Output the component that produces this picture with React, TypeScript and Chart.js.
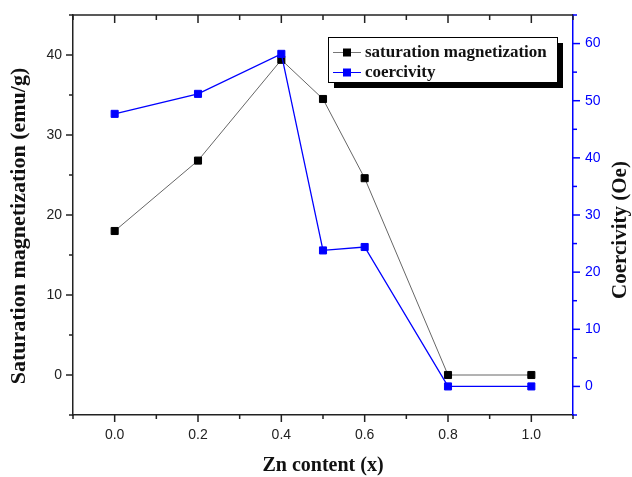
import React, { useEffect, useRef } from "react";
import { Chart, registerables } from "chart.js";

Chart.register(...registerables);

const znContent = [0.0, 0.2, 0.4, 0.5, 0.6, 0.8, 1.0];
const saturationMagnetization = [18.0, 26.8, 39.4, 34.5, 24.6, 0.0, 0.0];
const coercivity = [47.7, 51.2, 58.2, 23.8, 24.4, 0.0, 0.0];

const seriesLabels = ["saturation magnetization", "coercivity"];
const xTitle = "Zn content (x)";
const yLeftTitle = "Saturation magnetization (emu/g)";
const yRightTitle = "Coercivity (Oe)";

const X_MIN = -0.1, X_MAX = 1.1, X_STEP = 0.1, X_LABEL_STEP = 0.2;
const YL_MIN = -5, YL_MAX = 45, YL_STEP = 5, YL_LABEL_STEP = 10;
const YR_MIN = -5, YR_MAX = 65, YR_STEP = 5, YR_LABEL_STEP = 10;

const BLUE = "#0000ff";
const AXIS = "#222";

const isMultiple = (v: number, step: number) => {
  const r = v / step;
  return Math.abs(r - Math.round(r)) < 1e-6;
};

const framePlugin = {
  id: "frame",
  afterDraw(chart: any) {
    const { ctx, chartArea } = chart;
    const { left, right, top, bottom } = chartArea;
    const x = chart.scales.x;
    const yl = chart.scales.yL;
    const yr = chart.scales.yR;
    ctx.save();
    ctx.lineWidth = 1.5;
    ctx.strokeStyle = AXIS;
    ctx.beginPath();
    ctx.moveTo(left, top);
    ctx.lineTo(right, top);
    ctx.stroke();
    x.ticks.forEach((t: any) => {
      const px = x.getPixelForValue(t.value);
      const major = isMultiple(t.value, X_LABEL_STEP);
      const len = major ? 7 : 4;
      ctx.beginPath();
      ctx.moveTo(px, bottom);
      ctx.lineTo(px, bottom + len);
      ctx.moveTo(px, top);
      ctx.lineTo(px, top + len + 1);
      ctx.stroke();
    });
    yl.ticks.forEach((t: any) => {
      const py = yl.getPixelForValue(t.value);
      const major = isMultiple(t.value, YL_LABEL_STEP);
      const len = major ? 7 : 4;
      ctx.beginPath();
      ctx.moveTo(left, py);
      ctx.lineTo(left - len, py);
      ctx.stroke();
    });
    ctx.strokeStyle = BLUE;
    yr.ticks.forEach((t: any) => {
      const py = yr.getPixelForValue(t.value);
      const major = isMultiple(t.value, YR_LABEL_STEP);
      const len = major ? 7 : 4;
      ctx.beginPath();
      ctx.moveTo(right, py);
      ctx.lineTo(right + len, py);
      ctx.stroke();
    });

    ctx.fillStyle = "#111";
    ctx.textAlign = "center";
    ctx.textBaseline = "middle";
    ctx.font = "bold 22px 'Liberation Serif'";
    ctx.save();
    ctx.translate(19, 226);
    ctx.rotate(-Math.PI / 2);
    ctx.fillText(yLeftTitle, 0, 0);
    ctx.restore();
    ctx.font = "bold 21px 'Liberation Serif'";
    ctx.save();
    ctx.translate(621, 230);
    ctx.rotate(-Math.PI / 2);
    ctx.fillText(yRightTitle, 0, 0);
    ctx.restore();
    ctx.font = "bold 20px 'Liberation Serif'";
    ctx.fillText(xTitle, 323, 466);

    const bx = 328, by = 37, bw = 229, bh = 45;
    ctx.fillStyle = "#000";
    ctx.fillRect(bx + 6, by + 6, bw, bh);
    ctx.fillStyle = "#fff";
    ctx.fillRect(bx, by, bw, bh);
    ctx.lineWidth = 1;
    ctx.strokeStyle = "#000";
    ctx.strokeRect(bx + 0.5, by + 0.5, bw, bh);
    const rows = [
      { label: seriesLabels[0], line: "#777", fill: "#000", y: 52 },
      { label: seriesLabels[1], line: BLUE, fill: BLUE, y: 72 },
    ];
    rows.forEach((r) => {
      ctx.strokeStyle = r.line;
      ctx.lineWidth = 1;
      ctx.beginPath();
      ctx.moveTo(333, r.y + 0.5);
      ctx.lineTo(361, r.y + 0.5);
      ctx.stroke();
      ctx.fillStyle = r.fill;
      ctx.fillRect(343, r.y - 3.5, 8, 8);
      ctx.fillStyle = "#111";
      ctx.textAlign = "left";
      ctx.font = "bold 17px 'Liberation Serif'";
      ctx.fillText(r.label, 365, r.y + 1);
    });
    ctx.restore();
  },
};

export default function App() {
  const ref = useRef<HTMLCanvasElement | null>(null);
  useEffect(() => {
    if (!ref.current) return;
    const chart = new Chart(ref.current, {
      type: "scatter",
      data: {
        datasets: [
          {
            label: seriesLabels[0],
            data: znContent.map((x, i) => ({ x, y: saturationMagnetization[i] })),
            yAxisID: "yL",
            showLine: true,
            borderColor: "#666",
            borderWidth: 1,
            pointStyle: "rect",
            pointRadius: 5,
            pointBackgroundColor: "#000",
            pointBorderColor: "#000",
            pointBorderWidth: 1,
            order: 2,
          },
          {
            label: seriesLabels[1],
            data: znContent.map((x, i) => ({ x, y: coercivity[i] })),
            yAxisID: "yR",
            showLine: true,
            borderColor: BLUE,
            borderWidth: 1.3,
            pointStyle: "rect",
            pointRadius: 5,
            pointBackgroundColor: BLUE,
            pointBorderColor: BLUE,
            pointBorderWidth: 1,
            order: 1,
          },
        ],
      },
      options: {
        responsive: false,
        animation: false,
        layout: { padding: { top: 15, left: 0, right: 0, bottom: 0 } },
        plugins: { legend: { display: false }, tooltip: { enabled: false } },
        scales: {
          x: {
            type: "linear",
            position: "bottom",
            min: X_MIN,
            max: X_MAX,
            grid: { display: false, drawTicks: false },
            border: { display: true, color: AXIS, width: 1.5 },
            ticks: {
              stepSize: X_STEP,
              includeBounds: true,
              autoSkip: false,
              maxRotation: 0,
              padding: 12,
              color: "#222",
              font: { family: "'Liberation Sans'", size: 14 },
              callback: (v: any) => (isMultiple(Number(v), X_LABEL_STEP) ? Number(v).toFixed(1) : ""),
            },
            afterFit: (s: any) => { s.height = 62; s.paddingLeft = 0; s.paddingRight = 0; },
          },
          yL: {
            type: "linear",
            position: "left",
            min: YL_MIN,
            max: YL_MAX,
            grid: { display: false, drawTicks: false },
            border: { display: true, color: AXIS, width: 1.5 },
            ticks: {
              stepSize: YL_STEP,
              autoSkip: false,
              padding: 11,
              color: "#222",
              font: { family: "'Liberation Sans'", size: 14 },
              callback: (v: any) => (isMultiple(Number(v), YL_LABEL_STEP) ? String(Math.round(Number(v))) : ""),
            },
            afterFit: (s: any) => { s.width = 73; s.paddingTop = 0; s.paddingBottom = 0; },
          },
          yR: {
            type: "linear",
            position: "right",
            min: YR_MIN,
            max: YR_MAX,
            grid: { display: false, drawTicks: false },
            border: { display: true, color: BLUE, width: 1.5 },
            ticks: {
              stepSize: YR_STEP,
              autoSkip: false,
              padding: 12,
              color: BLUE,
              font: { family: "'Liberation Sans'", size: 14 },
              callback: (v: any) => (isMultiple(Number(v), YR_LABEL_STEP) ? String(Math.round(Number(v))) : ""),
            },
            afterFit: (s: any) => { s.width = 59; s.paddingTop = 0; s.paddingBottom = 0; },
          },
        },
      },
      plugins: [framePlugin],
    } as any);
    return () => chart.destroy();
  }, []);
  return (
    <div style={{ position: "absolute", left: 0, top: 0, width: 632, height: 477, background: "#fff" }}>
      <canvas ref={ref} width={632} height={477} style={{ display: "block" }} />
    </div>
  );
}
